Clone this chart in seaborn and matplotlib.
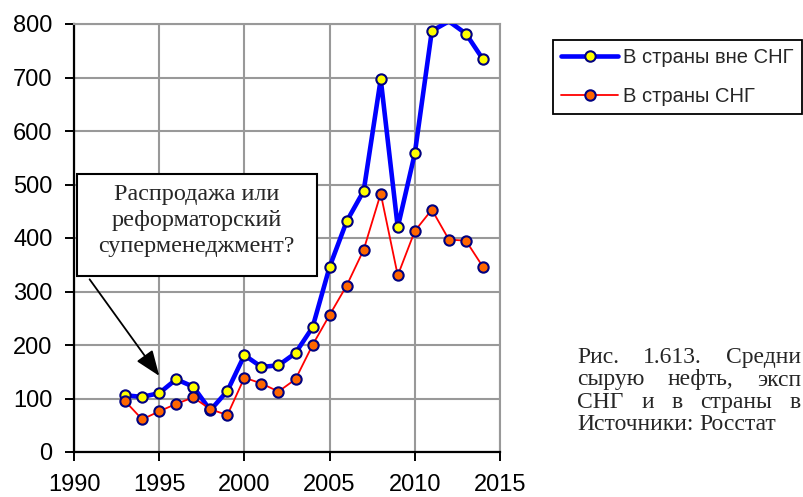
import numpy as np
import pandas as pd
import matplotlib
matplotlib.use("Agg")
import matplotlib.pyplot as plt
import seaborn as sns
from matplotlib.lines import Line2D
from matplotlib.patches import Rectangle

# Данные
years = [1993, 1994, 1995, 1996, 1997, 1998, 1999, 2000, 2001, 2002, 2003,
         2004, 2005, 2006, 2007, 2008, 2009, 2010, 2011, 2012, 2013, 2014]
vne_sng = [106, 103, 110, 136, 122, 78, 114, 181, 159, 162, 185,
           233, 346, 431, 488, 697, 420, 558, 787, 805, 782, 734]
sng = [95, 61, 76, 90, 102, 80, 69, 139, 128, 113, 136,
       200, 256, 311, 378, 483, 330, 413, 453, 397, 395, 346]
label_vne = "В страны вне СНГ"
label_sng = "В страны СНГ"
note_text = "Распродажа или\nреформаторский\nсуперменеджмент?"
# подпись (выровнена по ширине, обрезана краем картинки, как в оригинале)
caption_words = [["Рис.", "1.613.", "Средни"],
                 ["сырую", "нефть,", "эксп"],
                 ["СНГ", "и", "в", "страны", "в"],
                 ["Источники:", "Росстат"]]

df = pd.DataFrame({"year": years, "vne": vne_sng, "sng": sng})
# у 2012 года на синей линии маркера нет
df_mark = df[df["year"] != 2012]

sns.set_theme(style="white")
plt.rcParams['font.family'] = ['Liberation Sans', 'DejaVu Sans']

fig = plt.figure(figsize=(8.04, 4.97), dpi=100)
ax = fig.add_axes([74 / 804, 1 - 452 / 497, 426 / 804, 428 / 497])

blue, red, edge = "#0000FF", "#FF0000", "#000080"

sns.lineplot(data=df, x="year", y="vne", color=blue, lw=3.3, ax=ax, zorder=3)
sns.scatterplot(data=df_mark, x="year", y="vne", color="#FFFF00", s=55,
                edgecolor=edge, linewidth=1.5, ax=ax, zorder=4)
sns.lineplot(data=df, x="year", y="sng", color=red, lw=1.3, ax=ax, zorder=5)
sns.scatterplot(data=df, x="year", y="sng", color="#FF6600", s=55,
                edgecolor=edge, linewidth=1.5, ax=ax, zorder=6)

ax.set_xlim(1990, 2015)
ax.set_ylim(0, 800)
ax.set_xticks(range(1990, 2016, 5))
ax.set_yticks(range(0, 801, 100))
ax.set_xlabel("")
ax.set_ylabel("")
ax.grid(True, color="#999999", lw=1.5)
ax.set_axisbelow(True)
for s in ["left", "bottom"]:
    ax.spines[s].set_color("black")
    ax.spines[s].set_linewidth(1.6)
for s in ["top", "right"]:
    ax.spines[s].set_color("#999999")
    ax.spines[s].set_linewidth(1.5)
ax.tick_params(axis="both", direction="out", length=6.5, width=1.4,
               color="black", labelsize=17, labelcolor="black",
               bottom=True, left=True)
ax.tick_params(axis="y", pad=9)
ax.tick_params(axis="x", pad=9)

# рамка с вопросом и стрелка
ax.add_patch(Rectangle((1990.18, 329), 14.08, 191, facecolor="white",
                       edgecolor="black", lw=1.5, zorder=7))
ax.text(1997.2, 433, note_text, ha="center", va="center", fontsize=17.4,
        family="Liberation Serif", linespacing=1.3, zorder=8)
ax.annotate("", xy=(1995.1, 138), xytext=(1990.82, 327),
            arrowprops=dict(arrowstyle="-|>,head_length=1.3,head_width=0.5",
                            color="black", lw=1.3), zorder=8)

handles = [
    Line2D([], [], color=blue, lw=3.3, marker="o", markersize=7.5,
           markerfacecolor="#FFFF00", markeredgecolor=edge, markeredgewidth=1.5),
    Line2D([], [], color=red, lw=1.3, marker="o", markersize=7.5,
           markerfacecolor="#FF6600", markeredgecolor=edge, markeredgewidth=1.5),
]
leg = fig.legend(handles, [label_vne, label_sng], loc="upper left",
                 bbox_to_anchor=(553 / 804, 1 - 40 / 497), borderaxespad=0,
                 fontsize=14.5, frameon=True, fancybox=False, framealpha=1,
                 edgecolor="black", borderpad=0.4, labelspacing=1.0,
                 handlelength=2.85, handletextpad=0.25)
leg.get_frame().set_linewidth(1.3)

# подпись: строки по ширине от x=577 почти до правого края
renderer = fig.canvas.get_renderer()
left, right = 577, 801
for i, words in enumerate(caption_words):
    y = 1 - (363 + 22.5 * i) / 497
    texts = [fig.text(0, y, w, ha="left", va="baseline", fontsize=17,
                      family="Liberation Serif") for w in words]
    widths = [t.get_window_extent(renderer).width for t in texts]
    last = i == len(caption_words) - 1
    gap = 6.0 if last else (right - left - sum(widths)) / (len(words) - 1)
    x = left
    for t, wd in zip(texts, widths):
        t.set_x(x / 804)
        x += wd + gap

fig.savefig("out.png", dpi=100)
